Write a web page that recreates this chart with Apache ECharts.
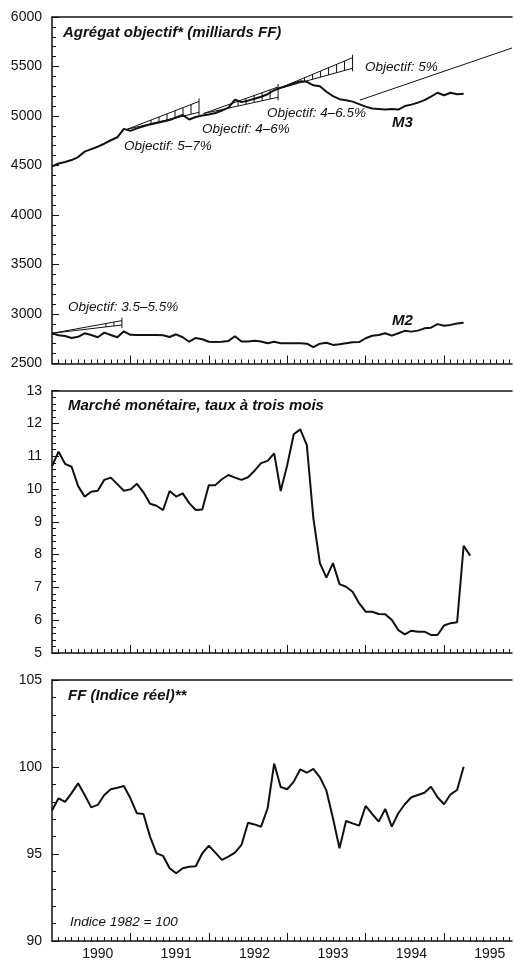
<!DOCTYPE html>
<html>
<head>
<meta charset="utf-8">
<script src="https://cdn.jsdelivr.net/npm/echarts@6/dist/echarts.min.js"></script>
<style>
  html, body { margin: 0; padding: 0; background: #fff; }
  #chart { width: 515px; height: 963px; }
</style>
</head>
<body>
<div id="chart"></div>
<script>
// mois comptés depuis janvier 1990 (0 = janv. 1990)
var yearLabels = ['1990', '1991', '1992', '1993', '1994', '1995'];
var yearLabelPos = [7, 19, 31, 43, 55, 67];
var yearTicks = [12, 24, 36, 48, 60];

// Agrégat objectif (milliards FF)
var m3 = [4490, 4520, 4535, 4555, 4585, 4640, 4665, 4690, 4720, 4755, 4785, 4870,
          4850, 4875, 4895, 4915, 4930, 4945, 4960, 4985, 5010, 4965, 4990, 5005,
          5015, 5030, 5055, 5085, 5165, 5140, 5155, 5175, 5195, 5220, 5260, 5285,
          5305, 5330, 5350, 5345, 5310, 5300, 5245, 5200, 5170, 5160, 5145, 5120,
          5095, 5075, 5070, 5065, 5070, 5065, 5100, 5115, 5135, 5160, 5195, 5235,
          5210, 5235, 5220, 5225];
var m2 = [2805, 2785, 2778, 2758, 2770, 2805, 2788, 2765, 2812, 2788, 2765, 2825,
          2790, 2788, 2788, 2788, 2788, 2785, 2768, 2795, 2765, 2720, 2758, 2745,
          2720, 2718, 2720, 2728, 2775, 2722, 2722, 2730, 2722, 2705, 2720, 2705,
          2705, 2704, 2704, 2700, 2665, 2700, 2710, 2688, 2695, 2705, 2714, 2716,
          2755, 2780, 2788, 2805, 2782, 2805, 2830, 2822, 2832, 2855, 2862, 2898,
          2882, 2890, 2905, 2912];

// Marché monétaire, taux à trois mois
var rate3m = [10.7, 11.14, 10.77, 10.68, 10.09, 9.77, 9.92, 9.95, 10.28, 10.35, 10.15, 9.95,
              9.99, 10.16, 9.90, 9.55, 9.49, 9.36, 9.94, 9.77, 9.87, 9.57, 9.36, 9.38,
              10.12, 10.12, 10.3, 10.43, 10.35, 10.28, 10.36, 10.56, 10.79, 10.86, 11.09, 9.94,
              10.73, 11.67, 11.82, 11.34, 9.11, 7.74, 7.30, 7.74, 7.10, 7.02, 6.87, 6.52,
              6.26, 6.26, 6.19, 6.18, 6.01, 5.70, 5.57, 5.68, 5.65, 5.65, 5.55, 5.55,
              5.84, 5.91, 5.94, 8.27, 7.97];

// FF (indice réel), 1982 = 100
var ffReal = [97.5, 98.2, 98.0, 98.5, 99.06, 98.39, 97.68, 97.82, 98.39, 98.72, 98.81, 98.91,
              98.2, 97.34, 97.30, 96.0, 95.04, 94.89, 94.18, 93.89, 94.18, 94.27, 94.3, 95.04,
              95.48, 95.08, 94.66, 94.85, 95.08, 95.52, 96.8, 96.7, 96.57, 97.63, 100.2, 98.85,
              98.72, 99.16, 99.87, 99.67, 99.89, 99.41, 98.64, 97.05, 95.33, 96.9, 96.76, 96.63,
              97.76, 97.30, 96.86, 97.59, 96.57, 97.34, 97.86, 98.26, 98.39, 98.52, 98.87, 98.26,
              97.86, 98.43, 98.68, 100.02];

// objectifs : [début (mois), niveau, fin (mois), haut, bas]
var m3Targets = [
  [11.5, 4866, 22.5, 5147, 5037],
  [23.2, 5025, 34.6, 5293, 5189],
  [34.6, 5275, 46.0, 5589, 5482]
];
var m2Targets = [
  [0, 2805, 10.7, 2933, 2889]
];
var m3Target95 = [[47.1, 5160], [70.4, 5687]];

var ink = '#111';
var font = '"Liberation Sans", Arial, sans-serif';

function pairs(arr) {
  return arr.map(function (v, i) { return [i, v]; });
}

var monthTicks = [];
for (var m = 1; m <= 70; m++) monthTicks.push(m);

// cône d'objectif hachuré
function renderCone(params, api) {
  var p0 = api.coord([api.value(0), api.value(1)]);
  var pu = api.coord([api.value(2), api.value(3)]);
  var pl = api.coord([api.value(2), api.value(4)]);
  var st = { stroke: ink, lineWidth: 1, fill: null };
  var kids = [
    { type: 'polyline', shape: { points: [p0, pu] }, style: st },
    { type: 'polyline', shape: { points: [p0, pl] }, style: st },
    { type: 'line', shape: { x1: pu[0], y1: pu[1] - 3, x2: pl[0], y2: pl[1] + 3 }, style: st }
  ];
  var len = pu[0] - p0[0];
  for (var d = 8; d < len; d += 8) {
    var t = 1 - d / len;
    var x = p0[0] + t * len;
    var yu = p0[1] + t * (pu[1] - p0[1]);
    var yl = p0[1] + t * (pl[1] - p0[1]);
    if (yl - yu < 3) break;
    kids.push({ type: 'line', shape: { x1: x, y1: yu, x2: x, y2: yl }, style: st });
  }
  return { type: 'group', children: kids };
}

var grids = [
  { left: 52, right: 3, top: 17, height: 346.5 },
  { left: 52, right: 3, top: 390.7, height: 262.3 },
  { left: 52, right: 3, top: 680, height: 261 }
];

var xAxes = [];
grids.forEach(function (g, gi) {
  // axe du bas : années
  xAxes.push({
    type: 'value', gridIndex: gi, min: 0, max: 70.4, position: 'bottom',
    axisLine: { show: true, onZero: false, lineStyle: { color: ink, width: 1.5 } },
    axisTick: { show: true, inside: true, length: 8, customValues: yearTicks, lineStyle: { color: ink, width: 1 } },
    axisLabel: {
      show: gi === 2, customValues: yearLabelPos, margin: 6,
      color: ink, fontFamily: font, fontSize: 14,
      formatter: function (v) { return yearLabels[Math.round((v - 7) / 12)]; }
    },
    splitLine: { show: false }
  });
  // mois
  xAxes.push({
    type: 'value', gridIndex: gi, min: 0, max: 70.4, position: 'bottom',
    axisLine: { show: false },
    axisTick: { show: true, inside: true, length: 4, customValues: monthTicks, lineStyle: { color: ink, width: 1 } },
    axisLabel: { show: false },
    splitLine: { show: false }
  });
  // trait du haut
  xAxes.push({
    type: 'value', gridIndex: gi, min: 0, max: 70.4, position: 'top',
    axisLine: { show: true, lineStyle: { color: ink, width: 1.5 } },
    axisTick: { show: false }, axisLabel: { show: false }, splitLine: { show: false }
  });
});

function yAxis(gi, min, max, interval) {
  return {
    type: 'value', gridIndex: gi, min: min, max: max, interval: interval,
    axisLine: { show: true, lineStyle: { color: ink, width: 1.5 } },
    axisTick: { show: true, inside: true, length: 7, lineStyle: { color: ink, width: 1 } },
    minorTick: { show: true, splitNumber: 5, length: 4, lineStyle: { color: ink, width: 1 } },
    axisLabel: { color: ink, fontFamily: font, fontSize: 14, margin: 10,
      formatter: function (v) { return String(v); } },
    splitLine: { show: false }
  };
}

var lineStyle = { color: ink, width: 2 };

function label(text, x, y, style) {
  return { type: 'text', x: x, y: y,
    style: { text: text, font: style + ' ' + font, fill: ink, verticalAlign: 'middle' } };
}

var option = {
  animation: false,
  backgroundColor: '#fff',
  grid: grids,
  xAxis: xAxes,
  yAxis: [yAxis(0, 2500, 6000, 500), yAxis(1, 5, 13, 1), yAxis(2, 90, 105, 5)],
  series: [
    { type: 'line', xAxisIndex: 0, yAxisIndex: 0, data: pairs(m3), symbol: 'none', lineStyle: lineStyle, z: 3 },
    { type: 'line', xAxisIndex: 0, yAxisIndex: 0, data: pairs(m2), symbol: 'none', lineStyle: lineStyle, z: 3 },
    { type: 'line', xAxisIndex: 0, yAxisIndex: 0, data: m3Target95, symbol: 'none', lineStyle: { color: ink, width: 1 }, z: 2 },
    { type: 'custom', xAxisIndex: 0, yAxisIndex: 0, data: m3Targets, renderItem: renderCone,
      encode: { x: [0, 2], y: [1, 3, 4] }, silent: true, z: 2 },
    { type: 'custom', xAxisIndex: 0, yAxisIndex: 0, data: m2Targets, renderItem: renderCone,
      encode: { x: [0, 2], y: [1, 3, 4] }, silent: true, z: 2 },
    { type: 'line', xAxisIndex: 3, yAxisIndex: 1, data: pairs(rate3m), symbol: 'none', lineStyle: lineStyle },
    { type: 'line', xAxisIndex: 6, yAxisIndex: 2, data: pairs(ffReal), symbol: 'none', lineStyle: lineStyle }
  ],
  graphic: [
    label('Agrégat objectif* (milliards FF)', 63, 33, 'italic bold 15px'),
    label('Marché monétaire, taux à trois mois', 68, 406, 'italic bold 15px'),
    label('FF (Indice réel)**', 68, 696, 'italic bold 15px'),
    label('Indice 1982 = 100', 70, 922, 'italic 13.5px'),
    label('Objectif: 5%', 365, 67, 'italic 13.5px'),
    label('Objectif: 4–6.5%', 267, 113, 'italic 13.5px'),
    label('Objectif: 4–6%', 202, 129, 'italic 13.5px'),
    label('Objectif: 5–7%', 124, 146, 'italic 13.5px'),
    label('M3', 392, 123, 'italic bold 15px'),
    label('Objectif: 3.5–5.5%', 68, 307, 'italic 13.5px'),
    label('M2', 392, 321, 'italic bold 15px')
  ]
};

var myChart = echarts.init(document.getElementById('chart'));
myChart.setOption(option);
</script>
</body>
</html>
